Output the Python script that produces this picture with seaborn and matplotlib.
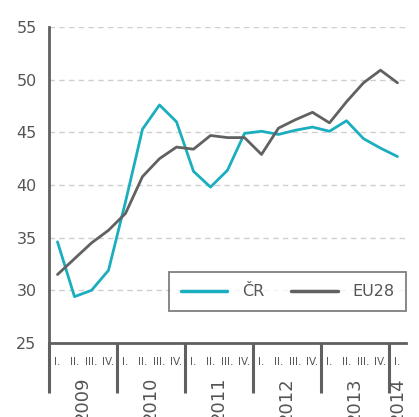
import numpy as np
import pandas as pd
import matplotlib
matplotlib.use("Agg")
import matplotlib.pyplot as plt
import matplotlib.transforms as mtransforms
import seaborn as sns

years = ["2009", "2010", "2011", "2012", "2013", "2014"]
quarter_labels = ["I.", "II.", "III.", "IV."]
series_names = ["ČR", "EU28"]

cr = [34.6, 29.4, 30.0, 31.9, 38.4, 45.3, 47.6, 46.0, 41.3, 39.8, 41.4, 44.9,
      45.1, 44.8, 45.2, 45.5, 45.1, 46.1, 44.4, 43.5, 42.7]
eu28 = [31.5, 33.0, 34.5, 35.7, 37.3, 40.8, 42.5, 43.6, 43.4, 44.7, 44.5, 44.5,
        42.9, 45.4, 46.2, 46.9, 45.9, 47.9, 49.7, 50.9, 49.7]

n = len(cr)
df = pd.DataFrame({
    "t": list(range(n)) * 2,
    "value": cr + eu28,
    "series": [series_names[0]] * n + [series_names[1]] * n,
})

sns.set_style("white")
plt.rcParams["font.family"] = ["DejaVu Sans"]

axis_col = "#606060"
text_col = "#555555"
palette = {"ČR": "#1aaebf", "EU28": "#616161"}

fig = plt.figure(figsize=(4.19, 4.17), dpi=100)
ax = fig.add_axes([49 / 419, 1 - 343 / 417, 357 / 419, 316 / 417])

sns.lineplot(data=df, x="t", y="value", hue="series", palette=palette,
             linewidth=2.0, ax=ax)

ax.set_xlim(-0.5, n - 0.5)
ax.set_ylim(25, 55)
ax.set_yticks(np.arange(25, 56, 5))
ax.tick_params(axis="y", length=0, labelsize=11.5, labelcolor=text_col, pad=9)
for yv in range(30, 56, 5):
    ax.axhline(yv, color="#cfcfcf", linewidth=1, linestyle=(0, (4, 3)), zorder=0)

ax.set_xlabel("")
ax.set_ylabel("")
sns.despine(ax=ax, top=True, right=True)
for s in ["left", "bottom"]:
    ax.spines[s].set_color(axis_col)
    ax.spines[s].set_linewidth(2)

# quarter labels
ax.set_xticks(range(n))
ax.set_xticklabels([quarter_labels[i % 4] for i in range(n)])
ax.tick_params(axis="x", which="major", length=0, labelsize=7.5, labelcolor=text_col, pad=10)
ax.set_xticks(np.arange(0.5, n - 0.5, 1), minor=True)
ax.tick_params(axis="x", which="minor", length=4, width=2, color=axis_col, direction="out")

# year separators and labels
trans = mtransforms.blended_transform_factory(ax.transData, ax.transAxes)
for k in range(0, n + 3, 4):
    xs = min(k, n) - 0.5
    ax.plot([xs, xs], [0, -50 / 316], transform=trans, color=axis_col,
            linewidth=2.2, clip_on=False, solid_capstyle="butt")
for i, yr in enumerate(years):
    xc = (i * 4 - 0.5 + min(i * 4 + 4, n) - 0.5) / 2
    ax.text(xc, -34 / 316, yr, transform=trans, rotation=90, ha="center", va="top",
            fontsize=13, color=text_col)

leg = ax.legend(title=None, loc="lower right", bbox_to_anchor=(1.0, 0.101),
                ncol=2, frameon=True, fancybox=False, fontsize=11.5,
                handlelength=2.9, handletextpad=0.9, columnspacing=1.7,
                borderpad=0.75, borderaxespad=0)
leg.get_frame().set_edgecolor(axis_col)
leg.get_frame().set_linewidth(1.3)
for t in leg.get_texts():
    t.set_color(text_col)
for h in leg.get_lines():
    h.set_linewidth(2.5)

fig.savefig("out.png", dpi=100)
